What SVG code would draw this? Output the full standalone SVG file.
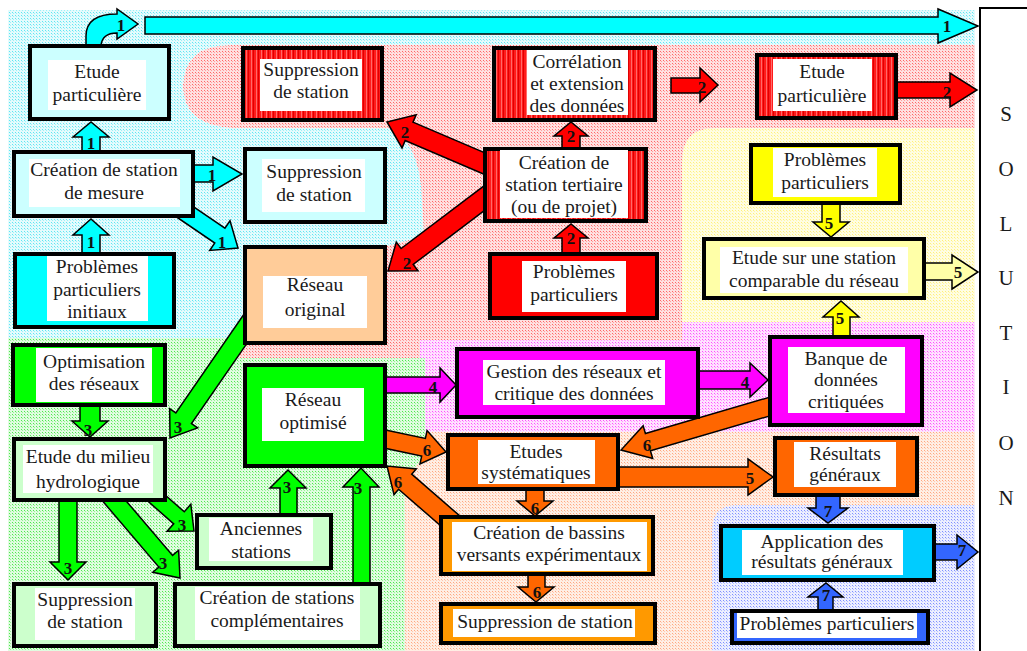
<svg xmlns="http://www.w3.org/2000/svg" width="1027" height="651" viewBox="0 0 1027 651">
<defs>
<pattern id="pC" width="3" height="3" patternUnits="userSpaceOnUse"><rect width="3" height="3" fill="#e4fbfd"/><rect width="1" height="1" fill="#5fe6f2"/><rect x="1" y="1" width="1" height="1" fill="#9ff0f7"/></pattern>
<pattern id="pR" width="3" height="3" patternUnits="userSpaceOnUse"><rect width="3" height="3" fill="#ffe0e0"/><rect width="1" height="1" fill="#ff6868"/><rect x="1" y="1" width="1" height="1" fill="#ffa0a0"/></pattern>
<pattern id="pY" width="3" height="3" patternUnits="userSpaceOnUse"><rect width="3" height="3" fill="#fffde2"/><rect width="1" height="1" fill="#fff07a"/><rect x="1" y="1" width="1" height="1" fill="#fff6a8"/></pattern>
<pattern id="pM" width="3" height="3" patternUnits="userSpaceOnUse"><rect width="3" height="3" fill="#ffe2ff"/><rect width="1" height="1" fill="#ff50ff"/><rect x="1" y="1" width="1" height="1" fill="#ff98ff"/></pattern>
<pattern id="pG" width="3" height="3" patternUnits="userSpaceOnUse"><rect width="3" height="3" fill="#e0fce0"/><rect width="1" height="1" fill="#4ee84e"/><rect x="1" y="1" width="1" height="1" fill="#98f298"/></pattern>
<pattern id="pO" width="3" height="3" patternUnits="userSpaceOnUse"><rect width="3" height="3" fill="#ffeee4"/><rect width="1" height="1" fill="#ffa880"/><rect x="1" y="1" width="1" height="1" fill="#ffcab0"/></pattern>
<pattern id="pB" width="3" height="3" patternUnits="userSpaceOnUse"><rect width="3" height="3" fill="#eceeff"/><rect width="1" height="1" fill="#8090ff"/><rect x="1" y="1" width="1" height="1" fill="#b5bfff"/></pattern>
<pattern id="stripes" width="5" height="10" patternUnits="userSpaceOnUse"><rect width="5" height="10" fill="#ff1c1c"/><rect x="1" width="1" height="10" fill="#ff6a6a"/><rect x="3" width="1" height="10" fill="#e00000"/></pattern>
<style>
.box{stroke:#000;stroke-width:4}
.w{fill:#fff}
.t{font-family:"Liberation Serif","Times New Roman",serif;font-size:19.5px;fill:#1a1a1a;text-anchor:middle}
.n{font-family:"Liberation Serif","Times New Roman",serif;font-size:17px;font-weight:bold;fill:#111;text-anchor:middle}
.s{font-family:"Liberation Serif","Times New Roman",serif;font-size:21px;fill:#1a1a1a;text-anchor:middle}
.a{stroke:#000;stroke-width:1.5;stroke-linejoin:miter}
.cy{fill:#00ffff}.cyl{fill:#ccffff}.rd{fill:#ff0000}.rs{fill:url(#stripes)}
.ye{fill:#ffff00}.yel{fill:#ffffa8}.pe{fill:#ffcc99}.gr{fill:#00ff00}.grl{fill:#ccffcc}
.mg{fill:#ff00ff}.or{fill:#ff6600}.orl{fill:#ff9900}.sk{fill:#00ccff}.bl{fill:#3366ff}
</style>
</defs>
<rect width="1027" height="651" fill="#fff"/>
<g id="background">
<path fill="url(#pR)" d="M230,45 H975 V345 H430 V358 H232 V128 Q183,125 183,85 Q185,45 230,45 Z"/>
<path fill="url(#pO)" d="M405,425 H975 V651 H405 Z"/>
<path fill="url(#pY)" d="M975,128 H715 Q682,128 682,162 V322 H975 Z"/>
<path fill="url(#pM)" d="M420,340 H682 V322 H975 V432 H420 Z"/>
<path fill="url(#pG)" d="M8,338 H235 V358 H425 V455 L405,480 V651 H8 Z"/>
<path fill="url(#pC)" d="M8,10 H975 V45 H230 Q185,45 183,85 Q183,125 232,128 H388 Q420,140 422,200 L424,236 L387,246 L243,246 L243,338 H8 Z"/>
<path fill="url(#pB)" d="M975,505 H738 Q712,505 712,531 V651 H975 Z"/>
</g>
<g id="solution">
<rect x="980" y="8" width="50" height="650" fill="#fff" stroke="#000" stroke-width="2"/>
<text class="s" x="1006" y="121">S</text>
<text class="s" x="1006" y="176">O</text>
<text class="s" x="1006" y="231">L</text>
<text class="s" x="1006" y="285">U</text>
<text class="s" x="1006" y="340">T</text>
<text class="s" x="1006" y="394">I</text>
<text class="s" x="1006" y="450">O</text>
<text class="s" x="1006" y="505">N</text>
</g>
<g id="connectors">
<polygon class="a cy" points="145,17 938,17 938,9 978,26 938,43 938,34 145,34"/>
<path class="a cy" d="M86,46 V36 Q86,14 117,14 V9 L138,24 L117,39 V33 Q102,33 101,46 Z"/>
<polygon class="a cy" points="82,152 82,137 73,137 91,122 109,137 100,137 100,152"/>
<polygon class="a cy" points="82,254 82,235 73,235 91,219 109,235 100,235 100,254"/>
<polygon class="a cy" points="193,165 213,165 213,157 242,174 213,191 213,182 193,182"/>
<polygon class="a cy" transform="translate(175 205) rotate(34.31)" points="0,-9 54.3,-9 54.3,-18 76.3,0 54.3,18 54.3,9 0,9"/>
<polygon class="a rd" points="562,149 562,136 554,136 571,122 588,136 580,136 580,149"/>
<polygon class="a rd" points="562,253 562,238 554,238 571,224 588,238 580,238 580,253"/>
<polygon class="a rd" points="671,78 700,78 700,68 718,85 700,102 700,93 671,93"/>
<polygon class="a rd" points="896,82 950,82 950,73 977,90 950,107 950,98 896,98"/>
<polygon class="a rd" transform="translate(495 168) rotate(203.07)" points="0,-10 93.4,-10 93.4,-18 117.4,0 93.4,18 93.4,10 0,10"/>
<polygon class="a rd" transform="translate(495 190) rotate(142.87)" points="0,-10 110.2,-10 110.2,-18 134.2,0 110.2,18 110.2,10 0,10"/>
<polygon class="a gr" points="80,405 100,405 100,421 108,421 90,437 72,421 80,421"/>
<polygon class="a gr" transform="translate(255 315) rotate(124.65)" points="0,-9.5 125.5,-9.5 125.5,-17 149.5,0 125.5,17 125.5,9.5 0,9.5"/>
<polygon class="a gr" points="59,500 77,500 77,562 86,562 68,580 50,562 59,562"/>
<polygon class="a gr" transform="translate(105 490) rotate(49.56)" points="0,-9 93.6,-9 93.6,-17 115.6,0 93.6,17 93.6,9 0,9"/>
<polygon class="a gr" transform="translate(145 488) rotate(41.26)" points="0,-8 45.2,-8 45.2,-18 65.2,0 45.2,18 45.2,8 0,8"/>
<polygon class="a gr" points="280,515 280,488 270,488 288,470 306,488 297,488 297,515"/>
<polygon class="a gr" points="353,584 353,487 343,487 361,468 379,487 370,487 370,584"/>
<polygon class="a mg" points="385,377 440,377 440,368 456,385 440,402 440,393 385,393"/>
<polygon class="a mg" points="698,371 750,371 750,363 768,380 750,397 750,389 698,389"/>
<polygon class="a ye" points="822,203 840,203 840,222 849,222 831,237 813,222 822,222"/>
<polygon class="a yel" points="924,263 952,263 952,255 978,272 952,289 952,280 924,280"/>
<polygon class="a ye" points="833,337 833,317 823,317 841,301 859,317 850,317 850,337"/>
<polygon class="a or" transform="translate(380 438) rotate(11.98)" points="0,-9 44.5,-9 44.5,-17 67.5,0 44.5,17 44.5,9 0,9"/>
<polygon class="a or" transform="translate(455 525) rotate(220.95)" points="0,-10 66,-10 66,-17 90,0 66,17 66,10 0,10"/>
<polygon class="a or" transform="translate(775 405) rotate(163.71)" points="0,-9 132.4,-9 132.4,-17 160.4,0 132.4,17 132.4,9 0,9"/>
<polygon class="a or" points="618,467 748,467 748,459 773,477 748,495 748,487 618,487"/>
<polygon class="a or" points="526,489 544,489 544,501 553,501 535,516 517,501 526,501"/>
<polygon class="a or" points="528,574 545,574 545,587 554,587 536,602 518,587 528,587"/>
<polygon class="a bl" points="816,495 840,495 840,508 848,508 828,523 808,508 816,508"/>
<polygon class="a bl" points="934,544 957,544 957,535 978,552 957,569 957,560 934,560"/>
<polygon class="a bl" points="818,611 833,611 833,597 843,597 826,583 808,597 818,597"/>
<text class="n" x="121" y="31">1</text>
<text class="n" x="947" y="32">1</text>
<text class="n" x="91" y="149">1</text>
<text class="n" x="91" y="248">1</text>
<text class="n" x="212" y="181">1</text>
<text class="n" x="222" y="248">1</text>
<text class="n" x="571" y="142">2</text>
<text class="n" x="571" y="244">2</text>
<text class="n" x="702" y="93">2</text>
<text class="n" x="947" y="98">2</text>
<text class="n" x="405" y="138">2</text>
<text class="n" x="407" y="269">2</text>
<text class="n" x="88" y="436">3</text>
<text class="n" x="178" y="433">3</text>
<text class="n" x="68" y="574">3</text>
<text class="n" x="163" y="569">3</text>
<text class="n" x="182" y="531">3</text>
<text class="n" x="287" y="493">3</text>
<text class="n" x="358" y="494">3</text>
<text class="n" x="433" y="393">4</text>
<text class="n" x="745" y="388">4</text>
<text class="n" x="829" y="229">5</text>
<text class="n" x="958" y="278">5</text>
<text class="n" x="840" y="324">5</text>
<text class="n" x="750" y="484">5</text>
<text class="n" x="427" y="456">6</text>
<text class="n" x="398" y="488">6</text>
<text class="n" x="647" y="451">6</text>
<text class="n" x="535" y="514">6</text>
<text class="n" x="537" y="598">6</text>
<text class="n" x="828" y="517">7</text>
<text class="n" x="962" y="556">7</text>
<text class="n" x="826" y="601">7</text>
</g>
<g id="n-etude-part-1"><rect class="box cyl" x="30" y="46" width="139" height="73"/><rect class="w" x="48" y="60" width="98" height="50"/><text class="t" x="97" y="78">Etude</text><text class="t" x="97" y="101">particulière</text></g>
<g id="n-creation-mesure"><rect class="box cyl" x="14" y="152" width="179" height="64"/><rect class="w" x="29" y="159" width="151" height="48"/><text class="t" x="104" y="176">Création de station</text><text class="t" x="104" y="199">de mesure</text></g>
<g id="n-suppr-1"><rect class="box cyl" x="245" y="149" width="140" height="73"/><rect class="w" x="262" y="159" width="103" height="53"/><text class="t" x="314" y="178">Suppression</text><text class="t" x="314" y="201">de station</text></g>
<g id="n-pb-initiaux"><rect class="box cy" x="15" y="254" width="159" height="73"/><rect class="w" x="47" y="256" width="101" height="65"/><text class="t" x="97" y="273">Problèmes</text><text class="t" x="97" y="296">particuliers</text><text class="t" x="97" y="318">initiaux</text></g>
<g id="n-suppr-2"><rect class="box rs" x="243" y="48" width="139" height="72"/><rect class="w" x="260" y="59" width="102" height="52"/><text class="t" x="311" y="76">Suppression</text><text class="t" x="311" y="98">de station</text></g>
<g id="n-correlation"><rect class="box rs" x="494" y="48" width="161" height="72"/><rect class="w" x="527" y="50" width="101" height="65"/><text class="t" x="577" y="68">Corrélation</text><text class="t" x="577" y="90">et extension</text><text class="t" x="577" y="112">des données</text></g>
<g id="n-etude-part-2"><rect class="box rs" x="757" y="55" width="139" height="63"/><rect class="w" x="773" y="59" width="99" height="52"/><text class="t" x="822" y="78">Etude</text><text class="t" x="822" y="102">particulière</text></g>
<g id="n-creation-tertiaire"><rect class="box rs" x="485" y="149" width="161" height="72"/><rect class="w" x="500" y="150" width="128" height="68"/><text class="t" x="564" y="169">Création de</text><text class="t" x="564" y="191">station tertiaire</text><text class="t" x="564" y="213">(ou de projet)</text></g>
<g id="n-pb-2"><rect class="box rd" x="490" y="254" width="167" height="64"/><rect class="w" x="522" y="261" width="104" height="51"/><text class="t" x="574" y="278">Problèmes</text><text class="t" x="574" y="301">particuliers</text></g>
<g id="n-pb-5"><rect class="box ye" x="751" y="145" width="149" height="58"/><rect class="w" x="773" y="148" width="104" height="49"/><text class="t" x="825" y="166">Problèmes</text><text class="t" x="825" y="189">particuliers</text></g>
<g id="n-etude-station"><rect class="box yel" x="704" y="239" width="220" height="59"/><rect class="w" x="720" y="247" width="188" height="46"/><text class="t" x="814" y="264">Etude sur une station</text><text class="t" x="814" y="287">comparable du réseau</text></g>
<g id="n-reseau-original"><rect class="box pe" x="245" y="247" width="140" height="96"/><rect class="w" x="263" y="276" width="104" height="52"/><text class="t" x="315" y="291">Réseau</text><text class="t" x="315" y="316">original</text></g>
<g id="n-reseau-optimise"><rect class="box gr" x="245" y="365" width="140" height="101"/><rect class="w" x="262" y="388" width="102" height="53"/><text class="t" x="313" y="406">Réseau</text><text class="t" x="313" y="429">optimisé</text></g>
<g id="n-optimisation"><rect class="box gr" x="13" y="345" width="152" height="60"/><rect class="w" x="36" y="348" width="116" height="54"/><text class="t" x="94" y="368">Optimisation</text><text class="t" x="94" y="390">des réseaux</text></g>
<g id="n-etude-milieu"><rect class="box grl" x="14" y="439" width="151" height="61"/><rect class="w" x="23" y="445" width="130" height="48"/><text class="t" x="88" y="463">Etude du milieu</text><text class="t" x="88" y="488">hydrologique</text></g>
<g id="n-anciennes"><rect class="box grl" x="197" y="515" width="134" height="53"/><rect class="w" x="209" y="518" width="104" height="43"/><text class="t" x="261" y="535">Anciennes</text><text class="t" x="261" y="558">stations</text></g>
<g id="n-suppr-3"><rect class="box grl" x="14" y="584" width="142" height="62"/><rect class="w" x="35" y="588" width="100" height="52"/><text class="t" x="85" y="606">Suppression</text><text class="t" x="85" y="628">de station</text></g>
<g id="n-creation-compl"><rect class="box grl" x="175" y="584" width="205" height="62"/><rect class="w" x="195" y="587" width="165" height="53"/><text class="t" x="277" y="604">Création de stations</text><text class="t" x="277" y="627">complémentaires</text></g>
<g id="n-gestion"><rect class="box mg" x="457" y="349" width="241" height="68"/><rect class="w" x="483" y="360" width="182" height="45"/><text class="t" x="574" y="378">Gestion des réseaux et</text><text class="t" x="574" y="400">critique des données</text></g>
<g id="n-banque"><rect class="box mg" x="770" y="337" width="152" height="88"/><rect class="w" x="788" y="347" width="117" height="66"/><text class="t" x="846" y="365">Banque de</text><text class="t" x="846" y="386">données</text><text class="t" x="846" y="408">critiquées</text></g>
<g id="n-etudes-syst"><rect class="box or" x="448" y="435" width="170" height="54"/><rect class="w" x="478" y="440" width="117" height="44"/><text class="t" x="536" y="458">Etudes</text><text class="t" x="536" y="479">systématiques</text></g>
<g id="n-resultats"><rect class="box or" x="775" y="438" width="142" height="57"/><rect class="w" x="794" y="442" width="102" height="45"/><text class="t" x="845" y="460">Résultats</text><text class="t" x="845" y="481">généraux</text></g>
<g id="n-bassins"><rect class="box orl" x="441" y="517" width="212" height="57"/><rect class="w" x="452" y="522" width="195" height="49"/><text class="t" x="549" y="539">Création de bassins</text><text class="t" x="549" y="561">versants expérimentaux</text></g>
<g id="n-suppr-4"><rect class="box orl" x="441" y="604" width="214" height="39"/><rect class="w" x="453" y="609" width="182" height="28"/><text class="t" x="545" y="628">Suppression de station</text></g>
<g id="n-application"><rect class="box sk" x="721" y="526" width="213" height="54"/><rect class="w" x="742" y="530" width="161" height="45"/><text class="t" x="822" y="548">Application des</text><text class="t" x="822" y="568">résultats généraux</text></g>
<g id="n-pb-7"><rect class="box bl" x="732" y="611" width="196" height="32"/><rect class="w" x="737" y="613" width="180" height="25"/><text class="t" x="827" y="630">Problèmes particuliers</text></g>
</svg>
